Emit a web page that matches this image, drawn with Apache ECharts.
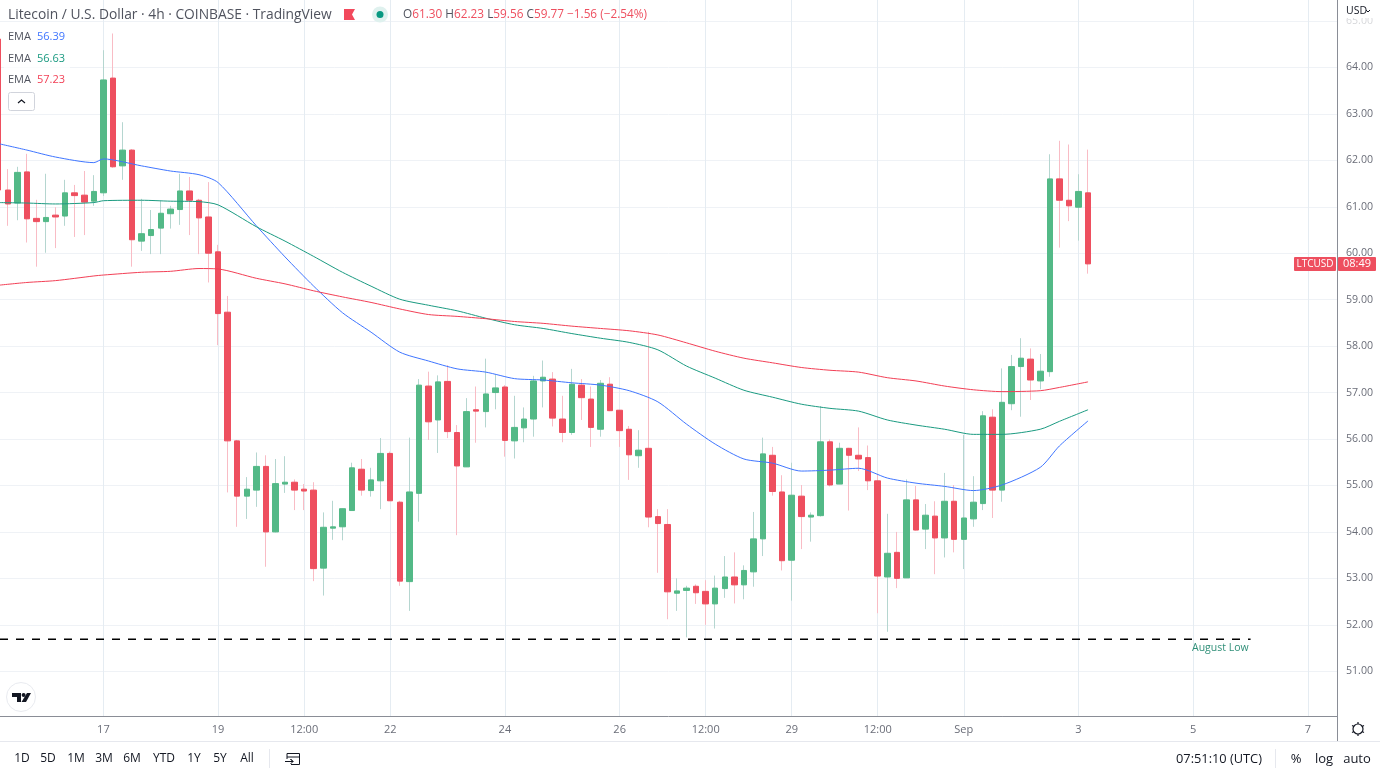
<!DOCTYPE html>
<html>
<head>
<meta charset="utf-8">
<title>Litecoin / U.S. Dollar 4h</title>
<script src="https://cdn.jsdelivr.net/npm/echarts@6/dist/echarts.min.js"></script>
<style>
html,body{margin:0;padding:0;background:#fff;}
#main{width:1380px;height:776px;}
</style>
</head>
<body>
<div id="main"></div>
<script>
// candle values, index 0 is the half hidden candle on the left edge
const opens = [64.61,61.36,61.08,61.75,60.75,60.68,60.82,60.80,61.30,61.25,61.12,61.30,63.77,61.88,62.22,60.26,60.38,60.54,60.85,60.94,61.34,61.14,60.78,60.03,58.73,55.96,54.77,54.90,55.41,54.00,55.03,55.07,54.92,54.90,53.22,54.08,54.11,54.46,55.35,54.89,55.10,55.69,54.64,52.93,54.83,57.14,56.41,57.24,56.14,55.40,56.63,56.59,57.00,57.12,55.96,56.24,56.43,57.25,57.29,56.43,56.14,57.16,56.86,56.21,57.18,56.62,56.21,55.64,55.80,54.33,54.16,52.68,52.74,52.83,52.72,52.45,52.78,53.03,52.86,53.14,53.85,55.65,54.86,53.39,54.77,54.32,54.35,55.94,55.03,55.80,55.65,55.60,55.10,53.03,53.56,53.01,54.69,54.06,54.34,53.87,54.66,53.84,54.28,54.61,56.47,54.90,56.76,57.56,57.72,57.25,57.45,61.60,61.14,60.99,61.30];
const closes = [61.36,61.06,61.74,60.74,60.68,60.77,60.78,61.30,61.24,61.10,61.33,63.73,61.86,62.22,60.29,60.42,60.51,60.86,60.95,61.34,61.14,60.76,60.00,58.70,55.96,54.77,54.92,55.41,54.00,55.04,55.07,54.90,54.88,53.21,54.10,54.11,54.50,55.38,54.90,55.12,55.69,54.67,52.94,54.86,57.16,56.37,57.23,56.16,55.42,56.59,56.60,56.97,57.10,55.97,56.25,56.43,57.25,57.33,56.45,56.14,57.18,56.89,56.25,57.20,56.61,56.18,55.66,55.76,54.32,54.18,52.71,52.73,52.79,52.69,52.45,52.79,53.03,52.86,53.17,53.85,55.68,54.87,53.38,54.79,54.33,54.36,55.94,55.01,55.80,55.65,55.57,55.10,53.05,53.54,53.00,54.69,54.04,54.36,53.87,54.66,53.84,54.30,54.64,56.50,54.90,56.79,57.56,57.74,57.27,57.46,61.60,61.14,61.02,61.33,59.77];
const lows = [60.90,60.59,60.71,60.23,59.71,60.01,60.11,60.59,60.35,60.39,61.02,61.23,61.84,61.58,59.71,60.05,59.98,59.98,60.53,60.61,60.39,59.98,59.37,58.02,54.85,54.11,54.28,54.54,53.25,53.99,54.84,54.47,54.47,52.94,52.63,53.83,53.82,54.46,54.78,54.76,54.49,54.67,52.84,52.30,54.22,55.98,55.70,56.02,53.93,55.40,55.92,56.25,56.64,55.62,55.58,55.93,56.05,56.68,56.27,55.93,56.09,56.41,55.83,56.05,56.60,55.83,55.12,55.38,54.10,53.12,52.12,52.30,51.73,52.45,52.00,51.92,52.58,52.46,52.55,52.82,53.48,54.78,53.17,52.52,53.63,53.79,54.33,54.98,55.03,54.46,55.31,54.90,52.25,51.85,52.79,53.01,54.03,53.63,53.09,53.45,53.56,53.20,54.11,54.47,54.30,54.65,56.62,56.48,56.84,57.07,57.34,60.12,60.69,60.27,59.56];
const highs = [64.70,61.81,61.86,62.14,61.15,61.71,60.99,61.58,61.47,61.77,61.68,64.37,64.73,62.82,62.24,61.17,60.93,61.13,61.02,61.71,61.64,61.17,61.53,60.18,59.08,55.98,55.18,55.71,55.65,55.57,55.63,55.13,55.03,55.07,54.42,54.67,54.50,55.49,55.57,55.38,56.02,55.73,54.67,56.03,57.29,57.45,57.37,57.59,56.30,56.88,57.13,57.73,57.39,57.16,56.93,56.68,57.36,57.69,57.44,56.93,57.51,57.29,57.13,57.27,57.33,56.62,56.28,56.19,58.31,54.49,54.49,53.00,52.84,52.87,52.96,53.06,53.48,53.56,53.28,54.43,56.03,55.83,55.22,55.49,55.01,54.42,56.71,55.99,55.92,55.81,56.25,55.86,55.25,54.39,54.00,55.13,54.99,54.60,54.66,55.27,55.01,56.09,55.20,56.60,56.64,57.52,57.81,58.17,57.95,57.83,62.13,62.42,62.34,61.70,62.23];

// EMA readings, taken at these candle indexes
const emaIndex = [0,3,6,10,11,15,18,21,23,27,30,33,36,39,42,45,48,51,54,57,60,63,66,69,72,75,78,81,84,87,90,93,96,99,102,105,109,111,114];
const emaBlue = [62.36,62.22,62.07,61.95,62.03,61.88,61.77,61.69,61.52,60.59,59.92,59.29,58.72,58.30,57.87,57.68,57.51,57.44,57.30,57.27,57.21,57.16,57.04,56.80,56.32,55.89,55.57,55.48,55.31,55.33,55.37,55.16,55.05,54.98,54.89,55.01,55.39,55.85,56.39];
const emaGreen = [61.09,61.08,61.06,61.09,61.13,61.14,61.12,61.11,61.04,60.57,60.26,59.93,59.59,59.29,59.01,58.88,58.76,58.60,58.46,58.38,58.27,58.17,58.08,57.92,57.57,57.31,57.05,56.90,56.75,56.66,56.60,56.41,56.30,56.21,56.10,56.10,56.21,56.38,56.63];
const emaRed = [59.31,59.37,59.41,59.51,59.53,59.59,59.61,59.67,59.66,59.46,59.34,59.19,59.06,58.94,58.80,58.68,58.64,58.59,58.53,58.49,58.43,58.38,58.33,58.24,58.07,57.89,57.74,57.64,57.54,57.48,57.44,57.32,57.25,57.14,57.06,57.02,57.04,57.11,57.23];

// axis labels
const timeTicks = [11,23,32,41,53,65,74,83,92,101,113,125,137];
const timeLabels = ['17','19','12:00','22','24','26','12:00','29','12:00','Sep','3','5','7'];
const priceTicks = [51,52,53,54,55,56,57,58,59,60,61,62,63,64,65];

const augustLow = 51.69;
const augustLowEnd = 131;
const lastClose = 59.77;

const UP = '#53b987', DOWN = '#ee4f5f';
const FONT = '"Open Sans", "Noto Sans", sans-serif';
const AXIS = '#8a8d96';
const TXT = '#6a6d78';

const idx = opens.map((v, i) => i);
const wickData = idx.map(i => [i, opens[i], closes[i], lows[i], highs[i]]);
// body series has no wick, low and high sit on the body
const bodyData = idx.map(i => [i, opens[i], closes[i], Math.min(opens[i], closes[i]), Math.max(opens[i], closes[i])]);

function emaLine(values, color) {
    return {
        type: 'line',
        data: emaIndex.map((x, k) => [x, values[k]]),
        showSymbol: false,
        symbol: 'none',
        smooth: 0.25,
        silent: true,
        z: 5,
        lineStyle: { color: color, width: 1 }
    };
}

function text(x, y, str, size, color, align) {
    return {
        type: 'text', x: x, y: y, z: 20, silent: true,
        style: { text: str, fontSize: size, fontFamily: FONT, fill: color, align: align || 'left', verticalAlign: 'middle' }
    };
}

function rect(x, y, w, h, fill, r) {
    return { type: 'rect', z: 15, silent: true, shape: { x: x, y: y, width: w, height: h, r: r || 0 }, style: { fill: fill } };
}

function vline(x, y1, y2, color) {
    return { type: 'line', z: 16, silent: true, shape: { x1: x, y1: y1, x2: x, y2: y2 }, style: { stroke: color, lineWidth: 1 } };
}

const chart = echarts.init(document.getElementById('main'));

chart.setOption({
    backgroundColor: '#fff',
    animation: false,
    grid: { left: 0, top: 0, width: 1337, height: 716, containLabel: false },
    xAxis: {
        type: 'value',
        min: 0.184,
        max: 140.04,
        axisLine: { show: true, lineStyle: { color: AXIS, width: 1 } },
        axisTick: { show: false, customValues: timeTicks },
        splitLine: { show: true, lineStyle: { color: '#e5ecf2', width: 1 } },
        axisLabel: {
            customValues: timeTicks,
            color: TXT, fontSize: 11, fontFamily: FONT, margin: 8,
            formatter: function (v) { return timeLabels[timeTicks.indexOf(v)]; }
        }
    },
    yAxis: {
        type: 'value',
        position: 'right',
        min: 50.037,
        max: 65.451,
        axisLine: { show: true, lineStyle: { color: AXIS, width: 1 } },
        axisTick: { show: false, customValues: priceTicks },
        splitLine: { show: true, lineStyle: { color: '#eff2f6', width: 1 } },
        axisLabel: {
            customValues: priceTicks,
            color: TXT, fontSize: 10.6, fontFamily: FONT, margin: 9,
            formatter: function (v) { return v.toFixed(2); }
        }
    },
    series: [
        {
            type: 'candlestick', data: wickData, barWidth: 1, z: 2, silent: true,
            encode: { x: 0, y: [1, 2, 3, 4] },
            itemStyle: { color: '#b5d6d0', color0: '#f9bcc5', borderColor: '#b5d6d0', borderColor0: '#f9bcc5', borderWidth: 1 }
        },
        {
            type: 'candlestick', data: bodyData, barWidth: 6, z: 3, silent: true,
            encode: { x: 0, y: [1, 2, 3, 4] },
            itemStyle: { color: UP, color0: DOWN, borderColor: UP, borderColor0: DOWN, borderWidth: 1 }
        },
        emaLine(emaBlue, '#3f75ff'),
        emaLine(emaGreen, '#1a9a80'),
        emaLine(emaRed, '#f23f55'),
        {
            type: 'line', silent: true, symbol: 'none', z: 6,
            data: [[0.184, augustLow], [augustLowEnd, augustLow]],
            lineStyle: { color: '#000', width: 1.4, type: [8, 8] }
        }
    ]
});

// price tag sits on the last close
const tagY = chart.convertToPixel({ yAxisIndex: 0 }, lastClose);

chart.setOption({
    graphic: [
        // top right price scale unit, the 65.00 label fades out below it
        rect(1338, 0, 42, 18, '#fff'),
        rect(1338, 18, 42, 9, 'rgba(255,255,255,0.72)'),
        text(1346, 11, 'USD', 10.5, '#131722'),
        { type: 'polyline', z: 20, silent: true, shape: { points: [[1366, 10], [1368, 12], [1370, 10]] }, style: { stroke: '#131722', lineWidth: 1, fill: null } },

        // header
        text(8, 15, 'Litecoin / U.S. Dollar · 4h · COINBASE · TradingView', 13.8, '#50535e'),
        { type: 'polygon', z: 20, silent: true, shape: { points: [[344, 9], [355, 9], [352, 14.5], [355, 20], [344, 20]] }, style: { fill: '#f2495c' } },
        { type: 'circle', z: 19, silent: true, shape: { cx: 380, cy: 14.5, r: 8 }, style: { fill: '#dff1ee' } },
        { type: 'circle', z: 20, silent: true, shape: { cx: 380, cy: 14.5, r: 3.5 }, style: { fill: '#089981' } },
        {
            type: 'text', x: 403, y: 15, z: 20, silent: true,
            style: {
                text: '{g|O}{r|61.30} {g|H}{r|62.23} {g|L}{r|59.56} {g|C}{r|59.77} {r|−1.56 (−2.54%)}',
                fontFamily: FONT, fontSize: 11.8, verticalAlign: 'middle',
                rich: {
                    g: { fill: '#50535e', fontSize: 11.8, fontFamily: FONT },
                    r: { fill: '#ee4f5f', fontSize: 11.8, fontFamily: FONT }
                }
            }
        },

        // EMA legend
        rect(4, 27, 66, 62, 'rgba(255,255,255,0.75)'),
        text(8, 37, 'EMA', 11, '#50535e'), text(37, 37, '56.39', 11, '#3f75ff'),
        text(8, 58.5, 'EMA', 11, '#50535e'), text(37, 58.5, '56.63', 11, '#1a9a80'),
        text(8, 79.5, 'EMA', 11, '#50535e'), text(37, 79.5, '57.23', 11, '#f23f55'),
        { type: 'rect', z: 20, silent: true, shape: { x: 8.5, y: 92.5, width: 26, height: 18, r: 2 }, style: { fill: '#fff', stroke: '#d1d4dc', lineWidth: 1 } },
        { type: 'polyline', z: 21, silent: true, shape: { points: [[18, 103], [21.5, 100], [25, 103]] }, style: { stroke: '#131722', lineWidth: 1.2, fill: null } },

        // last price tag
        { type: 'rect', z: 15, silent: true, shape: { x: 1294, y: tagY - 7, width: 42, height: 14, r: 1 }, style: { fill: '#ee4f5f' } },
        { type: 'rect', z: 15, silent: true, shape: { x: 1338, y: tagY - 7, width: 38, height: 14, r: 1 }, style: { fill: '#ee4f5f' } },
        text(1315, tagY, 'LTCUSD', 10, '#fff', 'center'),
        text(1357, tagY, '08:49', 11, '#fff', 'center'),

        text(1192, 648, 'August Low', 10.5, '#2f8f78'),

        // logo
        { type: 'circle', z: 19, silent: true, shape: { cx: 21, cy: 697, r: 14.5 }, style: { fill: '#fff', stroke: '#e9ebf0', lineWidth: 1 } },
        { type: 'polygon', z: 20, silent: true, shape: { points: [[12, 693], [21, 693], [21, 702], [17, 702], [17, 697], [12, 697]] }, style: { fill: '#131722' } },
        { type: 'circle', z: 20, silent: true, shape: { cx: 23.6, cy: 695, r: 2 }, style: { fill: '#131722' } },
        { type: 'polygon', z: 20, silent: true, shape: { points: [[27, 693], [31, 693], [26, 702], [21.5, 702]] }, style: { fill: '#131722' } },

        // bottom toolbar
        vline(1337.5, 716, 741, AXIS),
        { type: 'line', z: 16, silent: true, shape: { x1: 0, y1: 741.5, x2: 1380, y2: 741.5 }, style: { stroke: '#e6e8ee', lineWidth: 1 } },
        text(22, 759, '1D', 12, '#131722', 'center'),
        text(48, 759, '5D', 12, '#131722', 'center'),
        text(76, 759, '1M', 12, '#131722', 'center'),
        text(104, 759, '3M', 12, '#131722', 'center'),
        text(132, 759, '6M', 12, '#131722', 'center'),
        text(164, 759, 'YTD', 12, '#131722', 'center'),
        text(194, 759, '1Y', 12, '#131722', 'center'),
        text(220, 759, '5Y', 12, '#131722', 'center'),
        text(247, 759, 'All', 12, '#131722', 'center'),
        vline(269.5, 749, 768, '#e6e8ee'),
        // calendar icon, open on the left where the arrow comes in
        { type: 'polyline', z: 20, silent: true, shape: { points: [[287, 759], [287, 753.5], [299.5, 753.5], [299.5, 764.5], [291, 764.5]] }, style: { stroke: '#131722', lineWidth: 1, fill: null } },
        { type: 'line', z: 20, silent: true, shape: { x1: 287, y1: 757, x2: 299.5, y2: 757 }, style: { stroke: '#131722', lineWidth: 1 } },
        { type: 'polyline', z: 21, silent: true, shape: { points: [[285, 761.5], [293, 761.5], [290.5, 759], [293, 761.5], [290.5, 764]] }, style: { stroke: '#131722', lineWidth: 1, fill: null } },
        text(1176, 759, '07:51:10 (UTC)', 12.8, '#131722'),
        vline(1275.5, 749, 768, '#e6e8ee'),
        text(1296, 759, '%', 13, '#131722', 'center'),
        text(1324, 759, 'log', 13, '#131722', 'center'),
        text(1357, 759, 'auto', 13, '#131722', 'center'),

        // settings gear
        { type: 'circle', z: 20, silent: true, shape: { cx: 1358, cy: 729, r: 5 }, style: { fill: '#fff', stroke: '#131722', lineWidth: 1.2 } },
        { type: 'line', z: 20, silent: true, shape: { x1: 1358, y1: 722, x2: 1358, y2: 724 }, style: { stroke: '#131722', lineWidth: 1.2 } },
        { type: 'line', z: 20, silent: true, shape: { x1: 1358, y1: 734, x2: 1358, y2: 736 }, style: { stroke: '#131722', lineWidth: 1.2 } },
        { type: 'line', z: 20, silent: true, shape: { x1: 1352, y1: 725.5, x2: 1354, y2: 726.5 }, style: { stroke: '#131722', lineWidth: 1.2 } },
        { type: 'line', z: 20, silent: true, shape: { x1: 1362, y1: 726.5, x2: 1364, y2: 725.5 }, style: { stroke: '#131722', lineWidth: 1.2 } },
        { type: 'line', z: 20, silent: true, shape: { x1: 1352, y1: 732.5, x2: 1354, y2: 731.5 }, style: { stroke: '#131722', lineWidth: 1.2 } },
        { type: 'line', z: 20, silent: true, shape: { x1: 1362, y1: 731.5, x2: 1364, y2: 732.5 }, style: { stroke: '#131722', lineWidth: 1.2 } }
    ]
});
</script>
</body>
</html>
